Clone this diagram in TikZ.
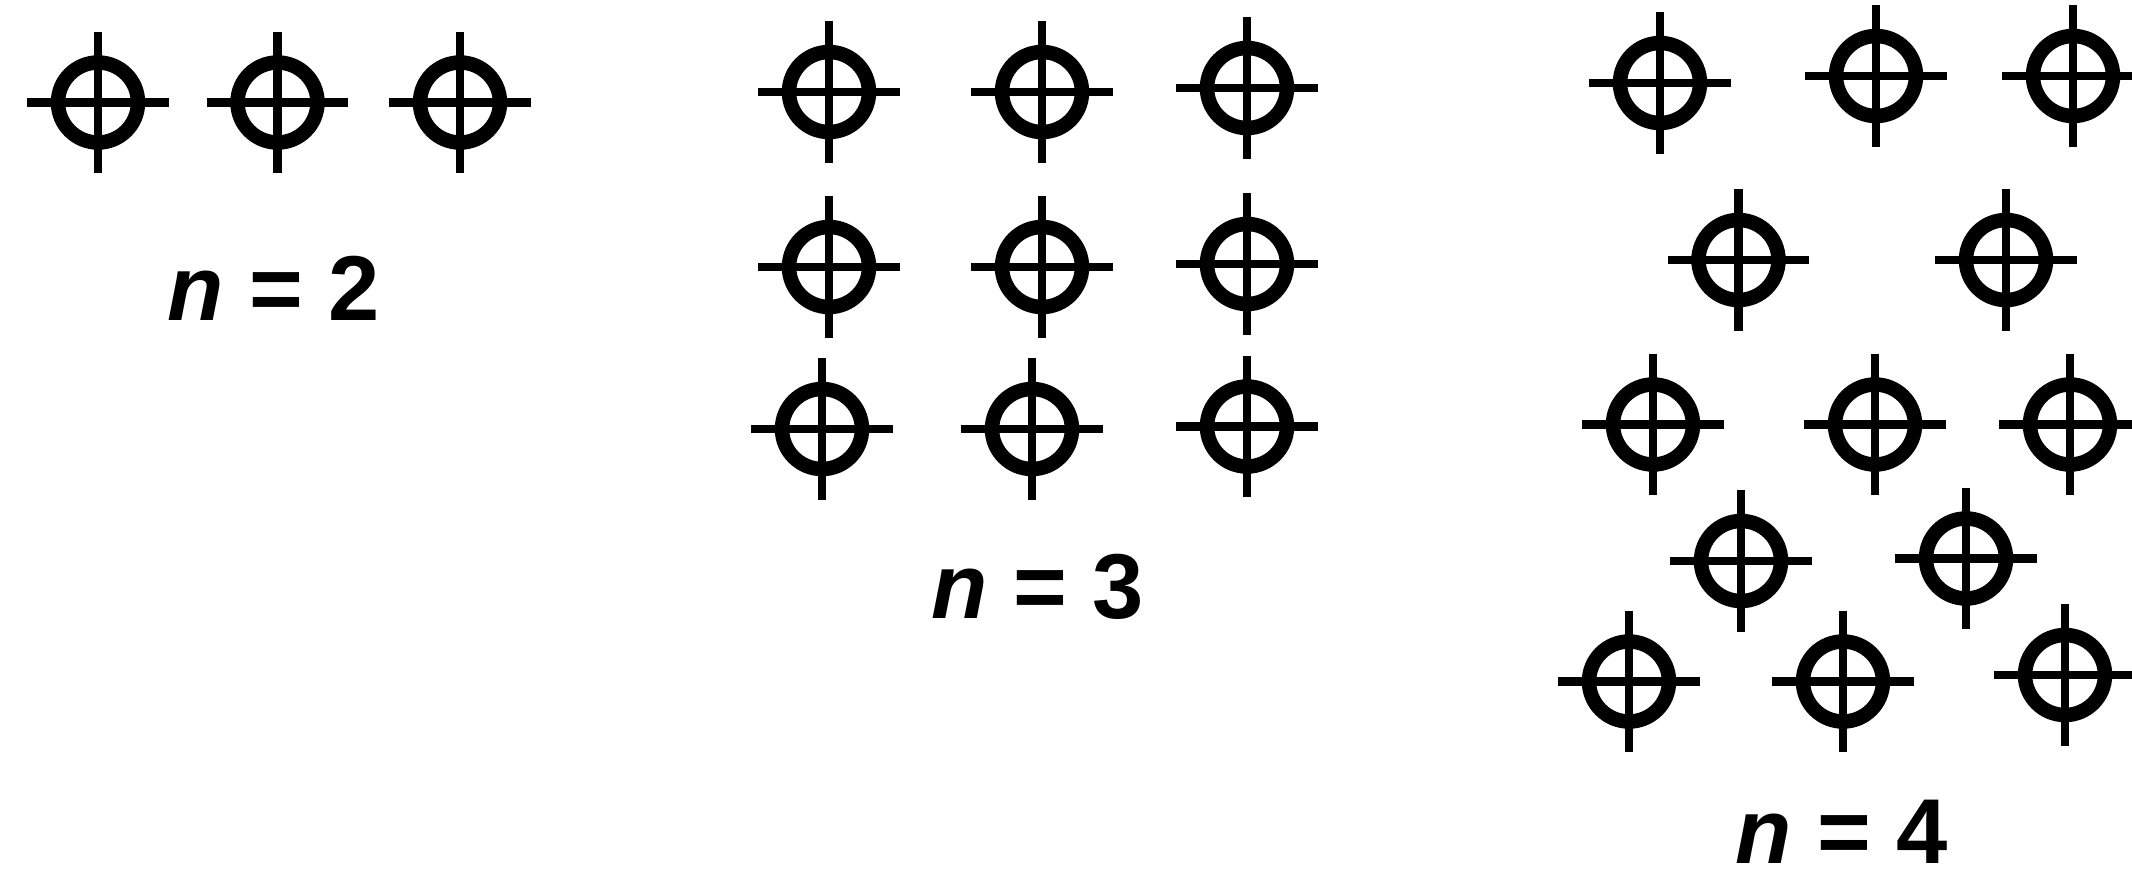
\documentclass[tikz,border=0pt]{standalone}
\usepackage{fontspec}
\setmainfont{Liberation Sans}
\begin{document}
\begin{tikzpicture}[x=0.01cm,y=-0.01cm,
  pics/target/.style={code={
    \draw[line width=0.145cm] (0,0) circle[radius=40];
    \draw[line width=0.082cm] (-70.8,0) -- (70.8,0) (0,-70.8) -- (0,70.8);
  }},
  lbl/.style={anchor=base,inner sep=0pt,font=\fontsize{26.2pt}{31pt}\selectfont\bfseries}]
\useasboundingbox (0,0) rectangle (2132,890);
\clip (0,0) rectangle (2132,890);
% n = 2
\pic at (98,102.5) {target};
\pic at (277.5,102.5) {target};
\pic at (460,102.5) {target};
\node[lbl] (l2) at (274,320) {\textit{n} = 2};
% n = 3
\pic at (829,92) {target};
\pic at (1042,92) {target};
\pic at (1247,88) {target};
\pic at (829,267) {target};
\pic at (1042,267) {target};
\pic at (1247,264) {target};
\pic at (822,429) {target};
\pic at (1032,429) {target};
\pic at (1247,426.5) {target};
\node[lbl] (l3) at (1038,618) {\textit{n} = 3};
% n = 4
\pic at (1660,83) {target};
\pic at (1876,76) {target};
\pic at (2073,76) {target};
\pic at (1738.5,260) {target};
\pic at (2006,260) {target};
\pic at (1653,424.5) {target};
\pic at (1875,424.5) {target};
\pic at (2070,424.5) {target};
\pic at (1741,561) {target};
\pic at (1966,558.5) {target};
\pic at (1629,681.5) {target};
\pic at (1843,681.5) {target};
\pic at (2065,675) {target};
\node[lbl] (l4) at (1842,863) {\textit{n} = 4};
\end{tikzpicture}
\end{document}
